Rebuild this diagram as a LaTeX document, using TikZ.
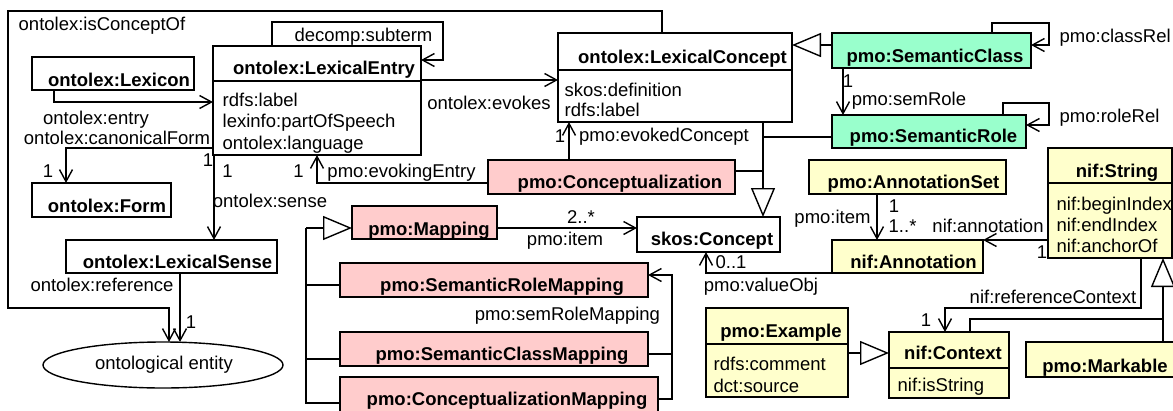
\documentclass[tikz,border=0pt]{standalone}
\usepackage{fontspec}
\setmainfont{Liberation Sans}
\usetikzlibrary{arrows.meta,shapes.geometric}
\definecolor{pinkf}{RGB}{255,204,204}
\definecolor{yellf}{RGB}{255,255,204}
\definecolor{greenf}{RGB}{153,255,204}
\newcommand\ubox[6]{\node[box,fill=#6,minimum width={(#4-#2)*1pt},minimum height={(#5-#3)*1pt}] (#1) at (#2,#3) {};}
\tikzset{
  box/.style={draw,inner sep=0pt,outer sep=0pt,anchor=north west},
  lbl/.style={inner sep=0pt,anchor=base},
  lblw/.style={inner sep=0pt,anchor=base west},
  ttl/.style={inner sep=0pt,anchor=base,font=\fontsize{18.5}{21.5}\selectfont\bfseries},
  conn/.style={draw,line join=miter},
  assoc/.style={conn,-{Straight Barb[length=12pt,width=13pt,line width=1.4pt]}},
  gen/.style={conn,-{Triangle[length=29pt,width=24pt,fill=white,line width=1.4pt]}},
}
\begin{document}
\begin{tikzpicture}[x=1pt,y=-1pt,line width=1.4pt,font=\fontsize{18.5}{21.5}\selectfont]
\useasboundingbox (0,0) rectangle (1173,410);
% ---------------- boxes
\ubox{lexicon}{32}{57}{194}{90}{white}
\ubox{entryH}{213}{46}{421}{81}{white}
\ubox{entryA}{213}{81}{421}{155}{white}
\ubox{form}{32}{183}{171}{217}{white}
\ubox{sense}{66}{240}{277}{273}{white}
\ubox{concH}{558}{33}{792}{70}{white}
\ubox{concA}{558}{70}{792}{122}{white}
\ubox{semclass}{832}{33}{1031}{68}{greenf}
\ubox{semrole}{832}{115}{1026}{148}{greenf}
\ubox{cptz}{488}{160}{735}{194}{pinkf}
\ubox{annset}{809}{160}{1006}{194}{yellf}
\ubox{annot}{832}{240}{983}{273}{yellf}
\ubox{strH}{1048}{148}{1172}{183}{yellf}
\ubox{strA}{1048}{183}{1172}{258}{yellf}
\ubox{skos}{637}{217}{780}{252}{white}
\ubox{mapping}{352}{206}{497}{239}{pinkf}
\ubox{srm}{340}{263}{648}{297}{pinkf}
\ubox{scm}{340}{332}{648}{366}{pinkf}
\ubox{cm}{340}{377}{658}{414}{pinkf}
\ubox{exH}{706}{308}{848}{344}{yellf}
\ubox{exA}{706}{344}{848}{397}{yellf}
\ubox{ctxH}{889}{332}{1009}{368}{yellf}
\ubox{ctxA}{889}{368}{1009}{398}{yellf}
\ubox{markable}{1026}{342}{1185}{377}{yellf}
\node[draw,ellipse,inner sep=0pt,outer sep=0pt,minimum width=240pt,minimum height=46pt] (ell) at (163,365) {};
% ---------------- titles and attributes
\node[ttl] (tLex) at (119,86) {ontolex:Lexicon};
\node[ttl] (tEntry) at (324,74) {ontolex:LexicalEntry};
\node[lblw] (aEntry1) at (222,106) {rdfs:label};
\node[lblw] (aEntry2) at (222,127.5) {lexinfo:partOfSpeech};
\node[lblw] (aEntry3) at (222,149) {ontolex:language};
\node[ttl] (tForm) at (107,212) {ontolex:Form};
\node[ttl] (tSense) at (177.5,268) {ontolex:LexicalSense};
\node[lbl] (tEll) at (164,369) {ontological entity};
\node[ttl] (tConc) at (682.5,63) {ontolex:LexicalConcept};
\node[lblw] (aConc1) at (564,96) {skos:definition};
\node[lblw] (aConc2) at (564,116) {rdfs:label};
\node[ttl] (tSC) at (935,62) {pmo:SemanticClass};
\node[ttl] (tSR) at (933.5,142) {pmo:SemanticRole};
\node[ttl] (tCptz) at (620,188) {pmo:Conceptualization};
\node[ttl] (tAS) at (913.5,188) {pmo:AnnotationSet};
\node[ttl] (tAn) at (913.5,268) {nif:Annotation};
\node[ttl] (tStr) at (1117,177) {nif:String};
\node[lblw] (aStr1) at (1056,210) {nif:beginIndex};
\node[lblw] (aStr2) at (1056,231) {nif:endIndex};
\node[lblw] (aStr3) at (1056,252) {nif:anchorOf};
\node[ttl] (tSkos) at (712,245) {skos:Concept};
\node[ttl] (tMap) at (429,235) {pmo:Mapping};
\node[ttl] (tSRM) at (502,291) {pmo:SemanticRoleMapping};
\node[ttl] (tSCM) at (502,360) {pmo:SemanticClassMapping};
\node[ttl] (tCM) at (507,405) {pmo:ConceptualizationMapping};
\node[ttl] (tEx) at (781,337) {pmo:Example};
\node[lblw] (aEx1) at (713,370) {rdfs:comment};
\node[lblw] (aEx2) at (713,392) {dct:source};
\node[ttl] (tCtx) at (953,359) {nif:Context};
\node[lblw] (aCtx) at (897,391) {nif:isString};
\node[ttl] (tMk) at (1105,372) {pmo:Markable};
% ---------------- bend coordinates
\coordinate (ic1) at (662,11);
\coordinate (ic2) at (8,308);
\coordinate (ic3) at (169,308);
\coordinate (en) at (54,102);
\coordinate (cf) at (66,148);
\coordinate (st1) at (272,22);
\coordinate (st2) at (443,60);
\coordinate (ev) at (421,80);
\coordinate (ee) at (317,183);
\coordinate (se) at (214,200);
\coordinate (rf) at (180,300);
\coordinate (ec) at (569,140);
\coordinate (g1) at (763,137);
\coordinate (g2) at (763,171);
\coordinate (g3) at (810,45);
\coordinate (cr1) at (992,23);
\coordinate (cr2) at (1049,45);
\coordinate (rr1) at (1003,103);
\coordinate (rr2) at (1049,125);
\coordinate (sr) at (843,90);
\coordinate (ai) at (877,220);
\coordinate (an) at (1010,240);
\coordinate (vo) at (706,260);
\coordinate (mi) at (560,228);
\coordinate (mg0) at (306,228);
\coordinate (mg1) at (306,285);
\coordinate (mg2) at (306,359);
\coordinate (mg3) at (306,403);
\coordinate (rm1) at (672,275);
\coordinate (rm2) at (672,354);
\coordinate (rm3) at (672,399);
\coordinate (sg) at (1163,319);
\coordinate (sg2) at (970,319);
\coordinate (rc1) at (1141,308);
\coordinate (rc2) at (945,308);
\coordinate (eg) at (860,353);
% ---------------- connectors
\draw[assoc] (concH.north -| ic1) -- (ic1) -| (ic2) -- (ic3) -- (ic3 |- ell.north);
\draw[assoc] (lexicon.south -| en) -- (en) -- (entryA.west |- en);
\draw[assoc] (entryA.west |- cf) -- (cf) -- (form.north -| cf);
\draw[assoc] (entryH.north -| st1) -- (st1) -| (st2) -- (entryH.east |- st2);
\draw[assoc] (ev) -- (concA.west |- ev);
\draw[assoc] (cptz.west |- ee) -- (ee) -- (entryA.south -| ee);
\draw[assoc] (entryA.south -| se) -- (sense.north -| se);
\draw[assoc] (sense.south -| rf) -- (ell.north -| rf);
\draw[assoc] (cptz.north -| ec) -- (concA.south -| ec);
\draw[gen] (concA.south -| g1) -- (skos.north -| g1);
\draw[conn] (semrole.west |- g1) -- (g1);
\draw[conn] (cptz.east |- g2) -- (g2);
\draw[gen] (semclass.west |- g3) -- (concH.east |- g3);
\draw[assoc] (semclass.north -| cr1) -- (cr1) -| (cr2) -- (semclass.east |- cr2);
\draw[assoc] (semrole.north -| rr1) -- (rr1) -| (rr2) -- (semrole.east |- rr2);
\draw[assoc] (semclass.south -| sr) -- (semrole.north -| sr);
\draw[assoc] (annset.south -| ai) -- (annot.north -| ai);
\draw[assoc] (strA.west |- an) -- (annot.east |- an);
\draw[assoc] (annot.south west) -| (skos.south -| vo);
\draw[assoc] (mapping.east |- mi) -- (skos.west |- mi);
\draw[gen] (mg0) -- (mapping.west |- mg0);
\draw[conn] (mg0) -- (mg3) -- (cm.west |- mg3);
\draw[conn] (mg1) -- (srm.west |- mg1);
\draw[conn] (mg2) -- (scm.west |- mg2);
\draw[assoc] (cm.east |- rm3) -- (rm3) -- (rm1) -- (srm.east |- rm1);
\draw[conn] (scm.east |- rm2) -- (rm2);
\draw[gen] (markable.north -| sg) -- (strA.south -| sg);
\draw[conn] (ctxH.north -| sg2) -- (sg2) -- (sg);
\draw[assoc] (strA.south -| rc1) -- (rc1) -- (rc2) -- (ctxH.north -| rc2);
\draw[gen] (exA.east |- eg) -- (ctxH.west |- eg);
% ---------------- connector labels
\node[lbl] (lIC) at (102,30) {ontolex:isConceptOf};
\node[lbl] (lEn) at (96,124) {ontolex:entry};
\node[lbl] (lCF) at (117,144) {ontolex:canonicalForm};
\node[lbl] (lCF1) at (208,166) {1};
\node[lbl] (lCF2) at (48,177) {1};
\node[lbl] (lST) at (363.5,41) {decomp:subterm};
\node[lbl] (lEv) at (489,109) {ontolex:evokes};
\node[lbl] (lEE) at (401.5,177) {pmo:evokingEntry};
\node[lbl] (lEE1) at (298.5,177) {1};
\node[lbl] (lSe) at (270,207) {ontolex:sense};
\node[lbl] (lSe1) at (227.5,177) {1};
\node[lbl] (lRf) at (102,291) {ontolex:reference};
\node[lbl] (lRf1) at (191,328) {1};
\node[lbl] (lEC) at (664,141) {pmo:evokedConcept};
\node[lbl] (lEC1) at (560,142) {1};
\node[lbl] (lSR) at (909,105) {pmo:semRole};
\node[lbl] (lSR1) at (848,87) {1};
\node[lblw] (lCR) at (1059,42) {pmo:classRel};
\node[lblw] (lRR) at (1059,122) {pmo:roleRel};
\node[lbl] (lAI) at (832.5,223) {pmo:item};
\node[lbl] (lAI1) at (894,212) {1};
\node[lblw] (lAI2) at (888,232) {1..*};
\node[lbl] (lAn) at (988,232) {nif:annotation};
\node[lbl] (lAn1) at (1042,258) {1};
\node[lbl] (lMI1) at (581,223) {2..*};
\node[lbl] (lMI) at (565,245) {pmo:item};
\node[lbl] (lVO1) at (731,268) {0..1};
\node[lbl] (lVO) at (761,291) {pmo:valueObj};
\node[lbl] (lRM) at (567.5,320) {pmo:semRoleMapping};
\node[lbl] (lRC) at (1053,303) {nif:referenceContext};
\node[lbl] (lRC1) at (926,326) {1};
\end{tikzpicture}
\end{document}
